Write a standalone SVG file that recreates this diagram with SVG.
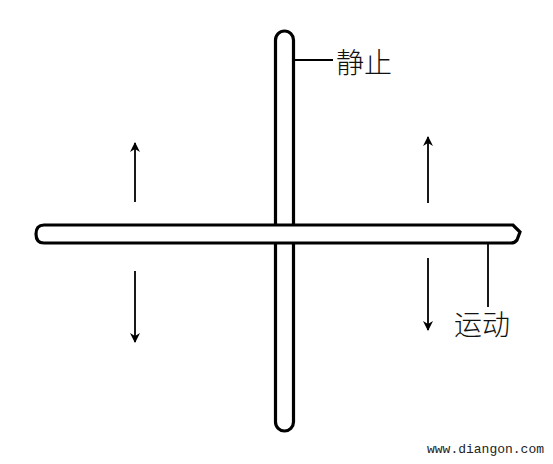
<svg xmlns="http://www.w3.org/2000/svg" width="553" height="464" viewBox="0 0 553 464">
<defs>
<style>
.bar{fill:#fff;stroke:#000;stroke-width:3.2}
.ln{fill:none;stroke:#000;stroke-width:1.8}
.lbl{font-family:"Noto Sans CJK SC",sans-serif;font-size:28px;font-weight:300;fill:#111}
.wm{font-family:"Liberation Mono",monospace;font-size:13px;fill:#222}
</style>
<marker id="ah" viewBox="0 0 10 10" refX="9" refY="5" markerWidth="12" markerHeight="10" markerUnits="userSpaceOnUse" orient="auto"><path d="M0,0 L10,5 L0,10 L3,5 Z" fill="#000"/></marker>
</defs>
<g id="static-bar">
<rect class="bar" x="275.5" y="31" width="18" height="400" rx="9" ry="9"/>
</g>
<g id="moving-bar">
<path class="bar" d="M44,225 L513,225 L520,232 L517,240 Q515,243 511,243 L44,243 Q36,243 36,234 Q36,225 44,225 Z"/>
</g>
<g id="connectors">
<line class="ln" x1="135" y1="202" x2="135" y2="143" marker-end="url(#ah)"/>
<line class="ln" x1="135" y1="271" x2="135" y2="342" marker-end="url(#ah)"/>
<line class="ln" x1="428" y1="203" x2="428" y2="137" marker-end="url(#ah)"/>
<line class="ln" x1="428" y1="258" x2="428" y2="330" marker-end="url(#ah)"/>
<line class="ln" x1="294" y1="60" x2="333" y2="60"/>
<line class="ln" x1="488" y1="243" x2="488" y2="307"/>
</g>
<g id="label-static"><text class="lbl" x="336" y="73">静止</text></g>
<g id="label-moving"><text class="lbl" x="454" y="335">运动</text></g>
<text class="wm" x="427" y="453">www.diangon.com</text>
</svg>
